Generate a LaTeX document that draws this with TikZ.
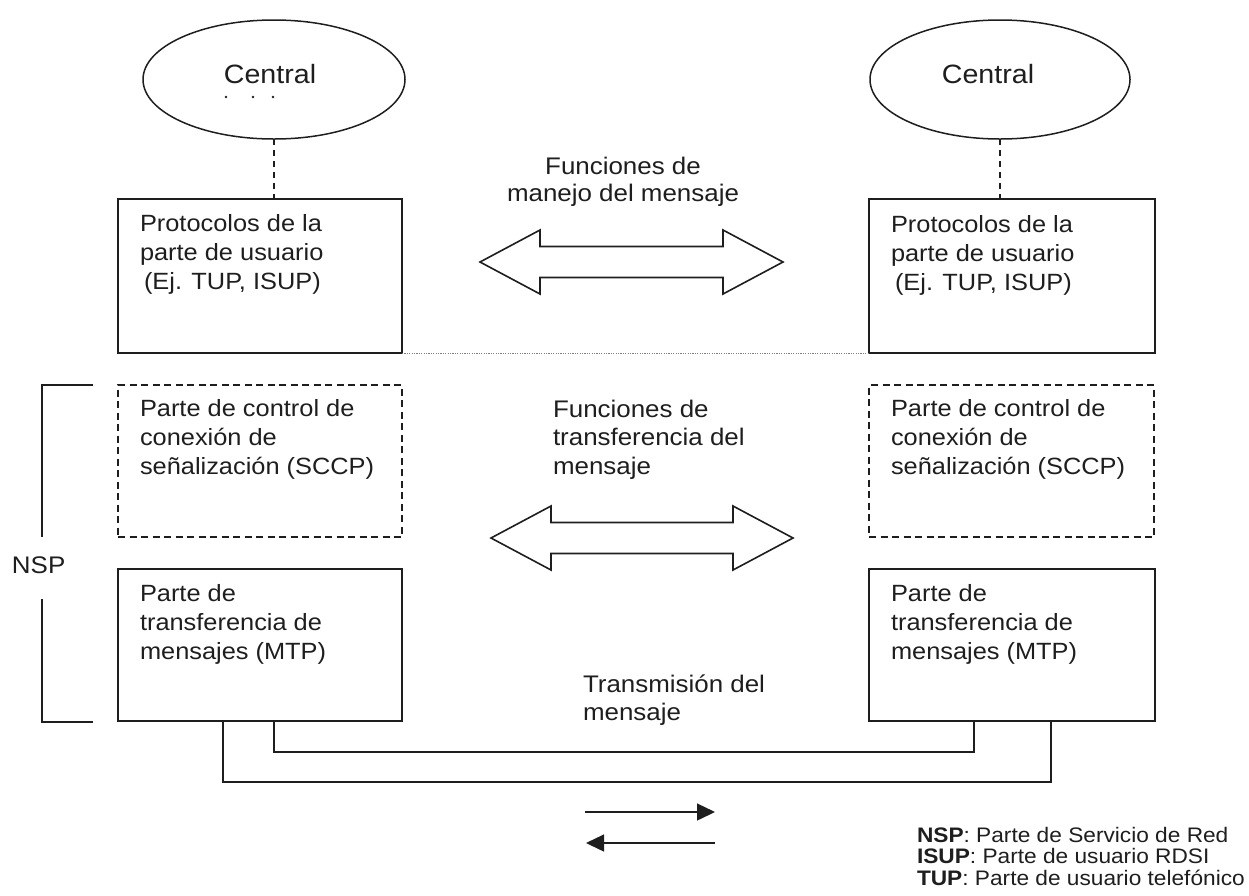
\documentclass[tikz,border=0pt]{standalone}
\usepackage{fontspec}
\setmainfont{Liberation Sans}[FakeStretch=1.08]
\usetikzlibrary{shapes.geometric,calc,arrows.meta}
\definecolor{ink}{HTML}{1E1E1E}
\begin{document}
\begin{tikzpicture}[x=1pt,y=-1pt,
  every node/.style={inner sep=0pt, outer sep=0pt, text=ink},
  solidbox/.style={draw=ink, line width=1.6pt, rectangle, minimum width=284pt,
    minimum height=152pt, anchor=north west},
  dashbox/.style={solidbox, line width=1.3pt, dash pattern=on 7pt off 4.5pt},
  central/.style={draw=ink, line width=1.5pt, ellipse, minimum width=262pt,
    minimum height=119pt},
  centraltext/.style={anchor=base, font=\fontsize{26.5}{30}\selectfont},
  boxtext/.style={anchor=base west, align=left, font=\fontsize{23.5}{29}\selectfont},
  midtext/.style={anchor=base west, align=left, font=\fontsize{24}{28.5}\selectfont},
  bigarrow/.style={draw=ink, line width=1.6pt, line join=miter},
  link/.style={draw=ink, line width=1.4pt, dash pattern=on 6pt off 5pt},
  conn/.style={draw=ink, line width=1.6pt},
  flow/.style={draw=ink, line width=1.4pt, -{Triangle[length=18pt,width=17pt]}},
  % hollow double-headed arrow: heads 60 long, 64 high; shaft 31 high
  pics/dblarrow/.style={code={
    \draw[bigarrow] (-#1/2-60,0) -- ++(60,-32) -- ++(0,16.5) -- ++(#1,0)
      -- ++(0,-16.5) -- ++(60,32) -- ++(-60,32) -- ++(0,-16.5) -- ++(-#1,0)
      -- ++(0,16.5) -- cycle;}}
]
\useasboundingbox (0,0) rectangle (1249,895);

% exchanges
\node[central] (cenL) at (274,79.5) {};
\node[central, minimum width=260pt] (cenR) at (1000,79.5) {};
\node[centraltext] (cenLt) at (270,83) {Central};
\node[centraltext] (cenRt) at (988,83) {Central};
\fill[ink] (226,97) circle (1.3pt) (253,97) circle (1.3pt) (273,97) circle (1.3pt);

% protocol stacks
\node[solidbox, minimum height=154pt] (protL) at (118,199) {};
\node[solidbox, minimum width=286pt, minimum height=154pt] (protR) at (869,199) {};
\node[dashbox] (scL) at (118,385) {};
\node[dashbox, minimum width=285pt] (scR) at (869,385) {};
\node[solidbox] (mtpL) at (118,569) {};
\node[solidbox, minimum width=286pt] (mtpR) at (869,569) {};

\draw[link] (cenL.south) -- (cenL.south |- protL.north);
\draw[link] (cenR.south) -- (cenR.south |- protR.north);
\draw[gray, line width=0.9pt, dash pattern=on 1.2pt off 1.2pt]
  (protL.south east) -- (protR.south west);

% text blocks are placed by the baseline of their last line
\node[boxtext] (protLt) at ($(protL.north west)+(22,90)$)
  {Protocolos de la\\parte de usuario\\\hspace{4pt}(Ej. TUP, ISUP)};
\node[boxtext] (protRt) at ($(protR.north west)+(22,91)$)
  {Protocolos de la\\parte de usuario\\\hspace{4pt}(Ej. TUP, ISUP)};
\node[boxtext] (scLt) at ($(scL.north west)+(22,89)$)
  {Parte de control de\\conexión de\\señalización (SCCP)};
\node[boxtext] (scRt) at ($(scR.north west)+(22,89)$)
  {Parte de control de\\conexión de\\señalización (SCCP)};
\node[boxtext] (mtpLt) at ($(mtpL.north west)+(22,90)$)
  {Parte de\\transferencia de\\mensajes (MTP)};
\node[boxtext] (mtpRt) at ($(mtpR.north west)+(22,90)$)
  {Parte de\\transferencia de\\mensajes (MTP)};

% functions between the stacks
\node[midtext, align=center, anchor=base, font=\fontsize{24}{27.5}\selectfont]
  (fmanejo) at (623,201.5) {Funciones de\\manejo del mensaje};
\pic at (631.5,262) {dblarrow=183};
\node[midtext] (ftrans) at (553,474) {Funciones de\\transferencia del\\mensaje};
\pic at (642,538) {dblarrow=182};
\node[midtext] (trans) at (583,720.5) {Transmisión del\\mensaje};

% signalling links
\draw[conn] ([xshift=156pt]mtpL.south west) -- ++(0,31)
  -| ([xshift=105pt]mtpR.south west);
\draw[conn] ([xshift=105pt]mtpL.south west) -- ++(0,61)
  -| ([xshift=182pt]mtpR.south west);

\coordinate (fwdA) at (585,812);
\coordinate (fwdB) at (715,812);
\coordinate (bwdA) at (715,843);
\coordinate (bwdB) at (586,843);
\draw[flow] (fwdA) -- (fwdB);
\draw[flow] (bwdA) -- (bwdB);

% network service part bracket
\coordinate (nspT) at (93,385);
\coordinate (nspB) at (93,722);
\node[anchor=base west, font=\fontsize{24}{28}\selectfont] (nsp) at (12,573) {NSP};
\draw[conn] (nspT) -- (42,385) -- (42,537);
\draw[conn] (42,599) -- (42,722) -- (nspB);

% legend
\node[anchor=base west, align=left, font=\fontsize{21}{21.5}\selectfont]
  (legend) at (917,885)
  {\textbf{NSP}: Parte de Servicio de Red\\
   \textbf{ISUP}: Parte de usuario RDSI\\
   \textbf{TUP}: Parte de usuario telefónico};
\end{tikzpicture}
\end{document}
